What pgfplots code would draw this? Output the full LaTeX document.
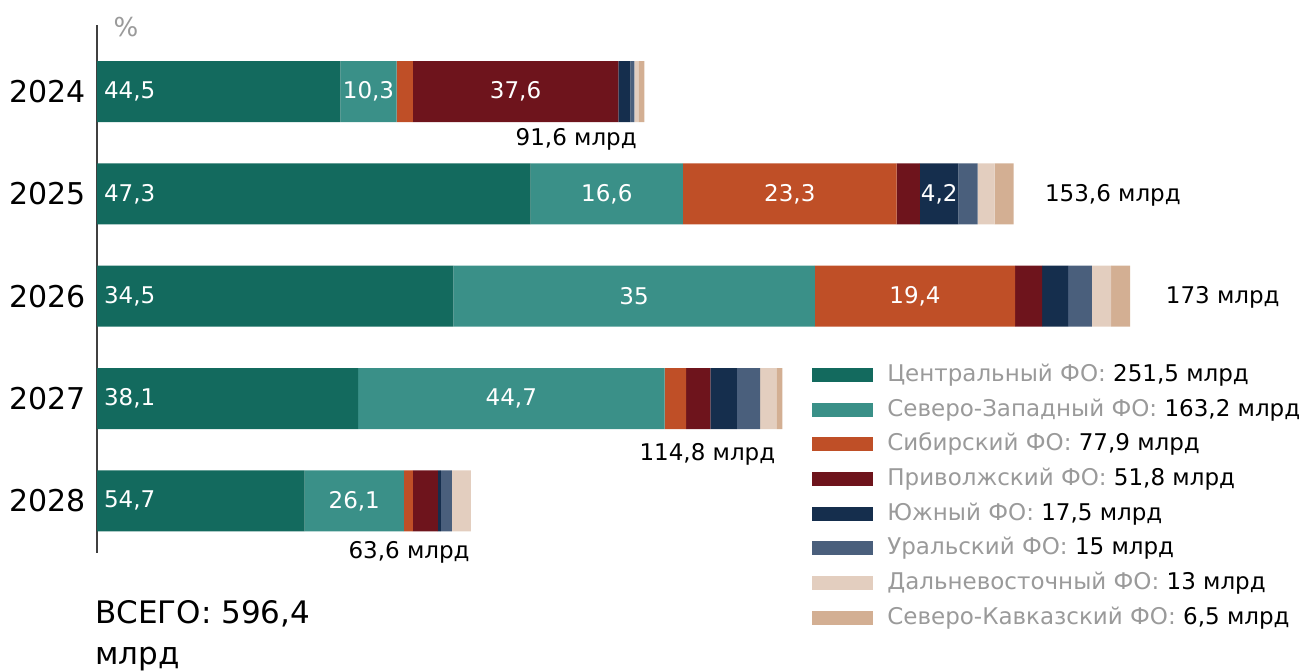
\documentclass[border=0pt]{standalone}
\usepackage{fontspec}
\setmainfont{DejaVu Sans}
\usepackage{pgfplots}
\usepackage{pgfplotstable}
\pgfplotsset{compat=1.18}

\definecolor{cC}{HTML}{136A5E}
\definecolor{cNW}{HTML}{3A9088}
\definecolor{cSib}{HTML}{BF4F27}
\definecolor{cPri}{HTML}{6E141C}
\definecolor{cYug}{HTML}{152E4D}
\definecolor{cUra}{HTML}{4A5F7C}
\definecolor{cDal}{HTML}{E3CEBF}
\definecolor{cSK}{HTML}{D3AF93}
\definecolor{lgray}{HTML}{9A9A9A}

% values in bln rub, labels = share of the year total, %
\pgfplotstableread{
y c     nw    sib   pri   yug  ura  dal  sk  lc   lnw  lsib lpri lyug
0 40.76 9.43  2.7   34.44 2.0  0.67 0.67 1.0 44,5 10,3 {}   37,6 {}
1 72.65 25.5  35.79 3.9   6.45 3.2  2.85 3.2 47,3 16,6 23,3 {}   4,2
2 59.69 60.55 33.56 4.5   4.35 4.0  3.2  3.2 34,5 35   19,4 {}   {}
3 43.74 51.32 3.6   4.1   4.4  3.9  2.75 1.0 38,1 44,7 {}   {}   {}
4 34.79 16.6  1.5   4.2   0.5  1.85 3.2  0   54,7 26,1 {}   {}   {}
}\data

\begin{document}
\begin{tikzpicture}
\useasboundingbox (-48.5pt,-58.5pt) rectangle (603.5pt,276.5pt);
\begin{axis}[
    at={(0,0)}, anchor=south west,
    scale only axis,
    width=597pt, height=264pt,
    xmin=0, xmax=200,
    ymin=-0.65, ymax=4.51,
    y dir=reverse,
    xbar stacked,
    bar width=30.5pt,
    axis x line=none,
    axis y line*=left,
    y axis line style={draw=black!75, line width=0.6pt},
    ytick={0,1,2,3,4},
    yticklabels={2024,2025,2026,2027,2028},
    major tick length=0pt,
    yticklabel style={font=\fontsize{15}{18}\selectfont, inner sep=0pt, xshift=-5.5pt},
    clip=false,
    every axis plot/.append style={draw=none},
    lbl/.style={point meta=explicit symbolic, nodes near coords,
        every node near coord/.append style={text=white, font=\fontsize{11.5}{13}\selectfont}},
    lblleft/.style={lbl, visualization depends on={rawx \as \val},
        every node near coord/.append style={anchor=west, xshift={-\val*1.4925pt}}},
    legend cell align=left,
    legend style={at={(0.5988,0.3597)}, anchor=north west, draw=none, fill=none,
        inner sep=0pt, row sep=5.85pt, column sep=7pt,
        font=\fontsize{11.5}{13}\selectfont,
        nodes={inner sep=0pt, text height=9pt, text depth=2.5pt}},
    legend image code/.code={\fill[#1] (0pt,-3.5pt) rectangle (30.5pt,3.5pt);},
]
\addplot[fill=cC, lblleft] table[x=c, y=y, meta=lc] {\data};
\addplot[fill=cNW, lbl] table[x=nw, y=y, meta=lnw] {\data};
\addplot[fill=cSib, lbl] table[x=sib, y=y, meta=lsib] {\data};
\addplot[fill=cPri, lbl] table[x=pri, y=y, meta=lpri] {\data};
\addplot[fill=cYug, lbl] table[x=yug, y=y, meta=lyug] {\data};
\addplot[fill=cUra] table[x=ura, y=y] {\data};
\addplot[fill=cDal] table[x=dal, y=y] {\data};
\addplot[fill=cSK] table[x=sk, y=y] {\data};
\legend{
    {\textcolor{lgray}{Центральный ФО:} 251,5 млрд},
    {\textcolor{lgray}{Северо-Западный ФО:} 163,2 млрд},
    {\textcolor{lgray}{Сибирский ФО:} 77,9 млрд},
    {\textcolor{lgray}{Приволжский ФО:} 51,8 млрд},
    {\textcolor{lgray}{Южный ФО:} 17,5 млрд},
    {\textcolor{lgray}{Уральский ФО:} 15 млрд},
    {\textcolor{lgray}{Дальневосточный ФО:} 13 млрд},
    {\textcolor{lgray}{Северо-Кавказский ФО:} 6,5 млрд}}

\node[anchor=east, font=\fontsize{11.5}{13}\selectfont] at (axis cs:91.6,0.464) {91,6 млрд};
\node[anchor=west, font=\fontsize{11.5}{13}\selectfont, xshift=12pt] at (axis cs:153.6,1.01) {153,6 млрд};
\node[anchor=west, font=\fontsize{11.5}{13}\selectfont, xshift=14.5pt] at (axis cs:173,2.01) {173 млрд};
\node[anchor=east, font=\fontsize{11.5}{13}\selectfont] at (axis cs:114.8,3.547) {114,8 млрд};
\node[anchor=east, font=\fontsize{11.5}{13}\selectfont] at (axis cs:63.6,4.5) {63,6 млрд};
\node[text=lgray, font=\fontsize{13}{15}\selectfont] at (axis cs:4.86,-0.63) {\%};
\end{axis}
\node[anchor=north west, align=left, inner sep=0pt, font=\fontsize{15.5}{20.5}\selectfont]
    at (-1pt,-23.5pt) {ВСЕГО: 596,4\\млрд};
\end{tikzpicture}
\end{document}
